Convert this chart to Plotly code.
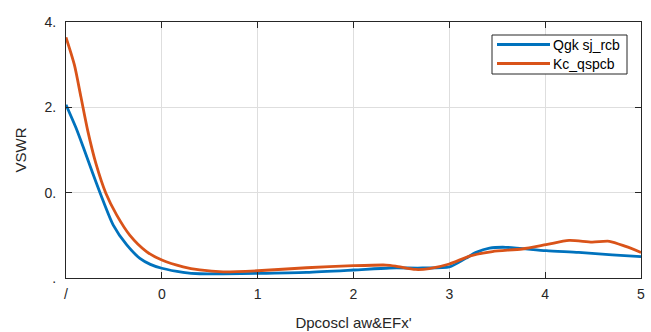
import plotly.graph_objects as go

# Frequency axis samples and VSWR for the two antennas
blue_x = [-1, -0.896, -0.809, -0.722, -0.635, -0.507, -0.368, -0.229,
          -0.12, 0, 0.222, 0.396, 0.64, 1.0, 1.51, 2.0, 2.375, 2.72, 3.0,
          3.17, 3.28, 3.42, 3.59, 4.01, 4.35, 4.70, 5.0]
blue_y = [2.03, 1.76, 1.50, 1.23, 0.97, 0.62, 0.39, 0.23,
          0.16, 0.114, 0.067, 0.05, 0.05, 0.055, 0.067, 0.094, 0.117, 0.117, 0.13,
          0.23, 0.30, 0.35, 0.36, 0.32, 0.30, 0.27, 0.25]

orange_x = [-1, -0.913, -0.844, -0.774, -0.6875, -0.583, -0.472, -0.333, -0.16, 0,
            0.222, 0.396, 0.64, 1.0, 1.51, 2.0, 2.34, 2.44, 2.65, 2.79,
            3.0, 3.22, 3.45, 3.76, 4.01, 4.25, 4.49, 4.67, 4.84, 5.0]
orange_y = [2.82, 2.50, 2.12, 1.73, 1.34, 0.99, 0.74, 0.50, 0.31, 0.21,
            0.13, 0.094, 0.072, 0.085, 0.12, 0.144, 0.152, 0.14, 0.10, 0.11,
            0.164, 0.26, 0.31, 0.34, 0.39, 0.44, 0.42, 0.43, 0.37, 0.30]

series_names = ["Qgk sj_rcb", "Kc_qspcb"]
series_colors = ["#0072BD", "#D95319"]
x_tick_vals = [-1, 0, 1, 2, 3, 4, 5]
x_tick_text = ["/", "0", "1", "2", "3", "4", "5"]
y_tick_vals = [0, 1, 2, 3]
y_tick_text = [".", "0.", "2.", "4."]

FONT = "Liberation Sans, Arial, sans-serif"
TXT = "#262626"
W, H = 651, 332
M = dict(l=66, r=10, t=22, b=54)
PW, PH = W - M["l"] - M["r"], H - M["t"] - M["b"]


def px_to_paper(px, py):
    """Convert page pixel position to paper coordinates."""
    return (px - M["l"]) / PW, (H - M["b"] - py) / PH


fig = go.Figure()
for xs, ys, name, col in [(blue_x, blue_y, series_names[0], series_colors[0]),
                          (orange_x, orange_y, series_names[1], series_colors[1])]:
    fig.add_trace(go.Scatter(x=xs, y=ys, mode="lines", name=name, showlegend=False,
                             line=dict(color=col, width=2.8, shape="spline", smoothing=0.7)))

# Boxed legend in the upper right corner
bx0, by0 = px_to_paper(492, 35)
bx1, by1 = px_to_paper(627, 74)
fig.add_shape(type="rect", xref="paper", yref="paper", x0=bx0, y0=by1, x1=bx1, y1=by0,
              line=dict(color=TXT, width=1), fillcolor="white", layer="above")
for i, (name, col) in enumerate(zip(series_names, series_colors)):
    row_y = 44.5 + 19 * i
    lx0, ly = px_to_paper(497, row_y)
    lx1, _ = px_to_paper(550, row_y)
    tx, _ = px_to_paper(551, row_y)
    fig.add_shape(type="line", xref="paper", yref="paper", x0=lx0, x1=lx1, y0=ly, y1=ly,
                  line=dict(color=col, width=3), layer="above")
    fig.add_annotation(xref="paper", yref="paper", x=tx, y=ly, text=name, showarrow=False,
                       xanchor="left", yanchor="middle",
                       font=dict(family=FONT, size=14, color="black"))

axis_common = dict(
    showline=True, linecolor=TXT, linewidth=1, mirror="ticks",
    ticks="inside", ticklen=6, tickcolor=TXT, tickwidth=1,
    showgrid=True, gridcolor="#DEDEDE", gridwidth=1, zeroline=False,
    tickfont=dict(family=FONT, size=14, color=TXT), automargin=False,
)

fig.update_layout(
    width=W, height=H,
    margin=M,
    paper_bgcolor="white", plot_bgcolor="white",
    font=dict(family=FONT, size=14, color=TXT),
    xaxis=dict(range=[-1, 5], tickvals=x_tick_vals, ticktext=x_tick_text,
               ticklabelstandoff=3,
               title=dict(text="Dpcoscl aw&EFx'", font=dict(family=FONT, size=15, color=TXT),
                          standoff=16),
               **axis_common),
    yaxis=dict(range=[0, 3], tickvals=y_tick_vals, ticktext=y_tick_text,
               ticklabelstandoff=6,
               title=dict(text="VSWR", font=dict(family=FONT, size=15, color=TXT), standoff=14),
               **axis_common),
    showlegend=False,
)

fig.write_html("out.html")
